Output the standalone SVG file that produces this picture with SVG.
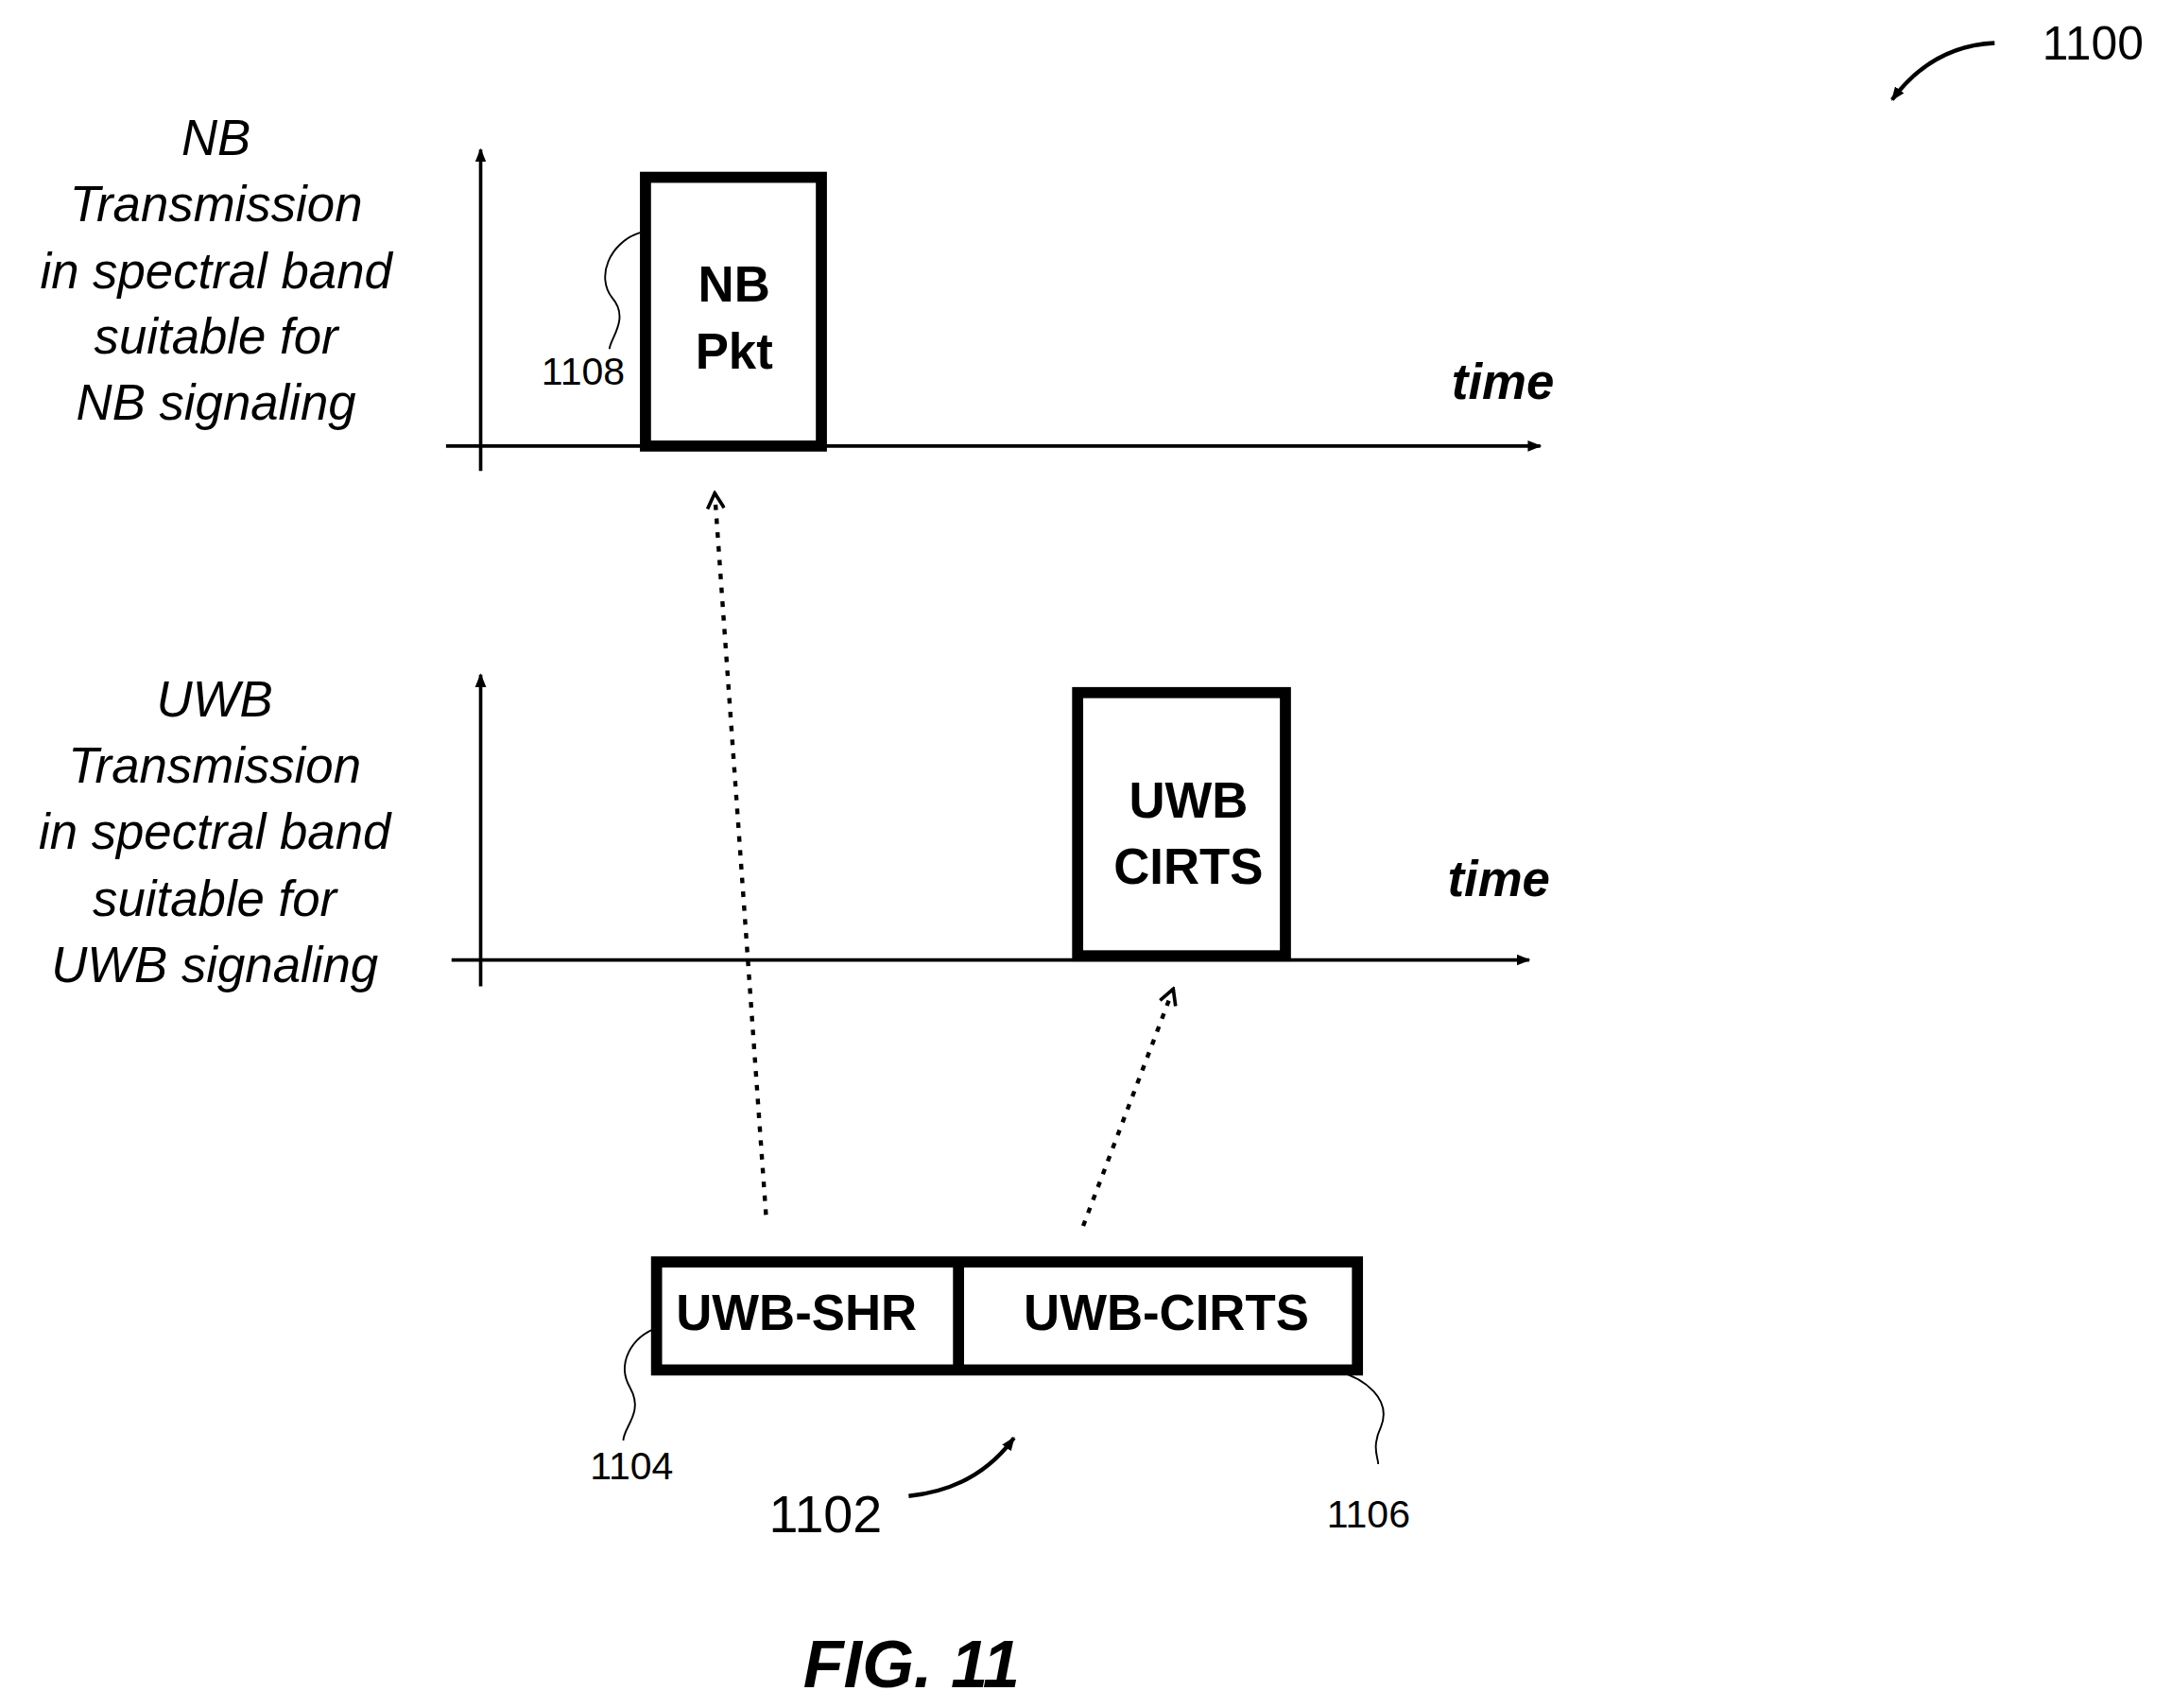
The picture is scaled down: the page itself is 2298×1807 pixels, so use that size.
<svg xmlns="http://www.w3.org/2000/svg" width="2298" height="1807" viewBox="0 0 2298 1807">
<style>
.l{font-family:"Liberation Sans",Arial,sans-serif;font-style:italic;font-size:36px;text-anchor:middle;fill:#000}
.b{font-family:"Liberation Sans",Arial,sans-serif;font-weight:bold;font-size:36px;text-anchor:middle;fill:#000}
.t{font-family:"Liberation Sans",Arial,sans-serif;font-weight:bold;font-style:italic;font-size:36px;text-anchor:middle;fill:#000}
.n{font-family:"Liberation Sans",Arial,sans-serif;font-size:28px;text-anchor:middle;fill:#000}
.ax{stroke:#000;stroke-width:2.5;fill:none}
.bx{stroke:#000;stroke-width:8;fill:#fff}
.ld{stroke:#000;stroke-width:1.3;fill:none}
.dt{stroke:#000;stroke-width:3;fill:none;stroke-dasharray:4 6}
</style>
<defs>
<marker id="a" markerWidth="10" markerHeight="10" refX="9" refY="5" orient="auto" markerUnits="userSpaceOnUse" viewBox="0 0 10 10"><path d="M0,1 L10,5 L0,9 Z" fill="#000"/></marker>
<marker id="o" markerWidth="14" markerHeight="14" refX="12" refY="7" orient="auto" markerUnits="userSpaceOnUse" viewBox="0 0 14 14"><path d="M1,1 L12,7 L1,13" fill="none" stroke="#000" stroke-width="2.5"/></marker>
</defs>
<g transform="scale(1.4655)">
<g id="ref1100"><text x="1511" y="43" class="n" style="font-size:34px">1100</text><path class="ax" d="M1440,31 Q1395,33 1366,72" marker-end="url(#a)" style="stroke-width:3"/></g>
<g id="nbLabel"><text class="l" x="156" y="112">NB</text><text class="l" x="156" y="160">Transmission</text><text class="l" x="156" y="208">in spectral band</text><text class="l" x="156" y="255">suitable for</text><text class="l" x="156" y="303">NB signaling</text></g>
<g id="nbAxes"><path class="ax" d="M347,340 V108" marker-end="url(#a)"/><path class="ax" d="M322,322 H1112" marker-end="url(#a)"/><text class="t" x="1085" y="288">time</text></g>
<g id="nbPkt"><rect class="bx" x="466" y="128" width="127" height="194"/><text class="b" x="530" y="218">NB</text><text class="b" x="530" y="266">Pkt</text></g>
<g id="ref1108"><text class="n" x="421" y="278">1108</text><path class="ld" d="M462,168 C440,175 430,200 442,215 C455,230 440,245 440,252"/></g>
<g id="uwbLabel"><text class="l" x="155" y="517">UWB</text><text class="l" x="155" y="565">Transmission</text><text class="l" x="155" y="613">in spectral band</text><text class="l" x="155" y="661">suitable for</text><text class="l" x="155" y="709">UWB signaling</text></g>
<g id="uwbAxes"><path class="ax" d="M347,712 V487" marker-end="url(#a)"/><path class="ax" d="M326,693 H1104" marker-end="url(#a)"/><text class="t" x="1082" y="647">time</text></g>
<g id="uwbCirts"><rect class="bx" x="778" y="500" width="150" height="190"/><text class="b" x="858" y="590">UWB</text><text class="b" x="858" y="638">CIRTS</text></g>
<g id="frame"><rect class="bx" x="474" y="911" width="506" height="78"/><line x1="692" y1="911" x2="692" y2="989" stroke="#000" stroke-width="8"/><text class="b" x="575" y="960">UWB-SHR</text><text class="b" x="842" y="960">UWB-CIRTS</text></g>
<g id="connectors"><path class="dt" d="M553,877 L516,356" marker-end="url(#o)"/><path class="dt" d="M782,885 L847,714" marker-end="url(#o)"/></g>
<g id="ref1104"><text class="n" x="456" y="1068">1104</text><path class="ld" d="M476,958 C455,965 445,985 455,1002 C465,1020 450,1030 450,1040"/></g>
<g id="ref1106"><text class="n" x="988" y="1103">1106</text><path class="ld" d="M966,990 C985,995 1005,1010 997,1030 C990,1045 995,1052 995,1057"/></g>
<g id="ref1102"><text class="n" x="596" y="1106" style="font-size:38px">1102</text><path class="ax" d="M656,1080 Q705,1075 732,1038" marker-end="url(#a)" style="stroke-width:3"/></g>
<text class="t" x="658" y="1218" style="font-size:48px">FIG. 11</text>
</g>
</svg>
